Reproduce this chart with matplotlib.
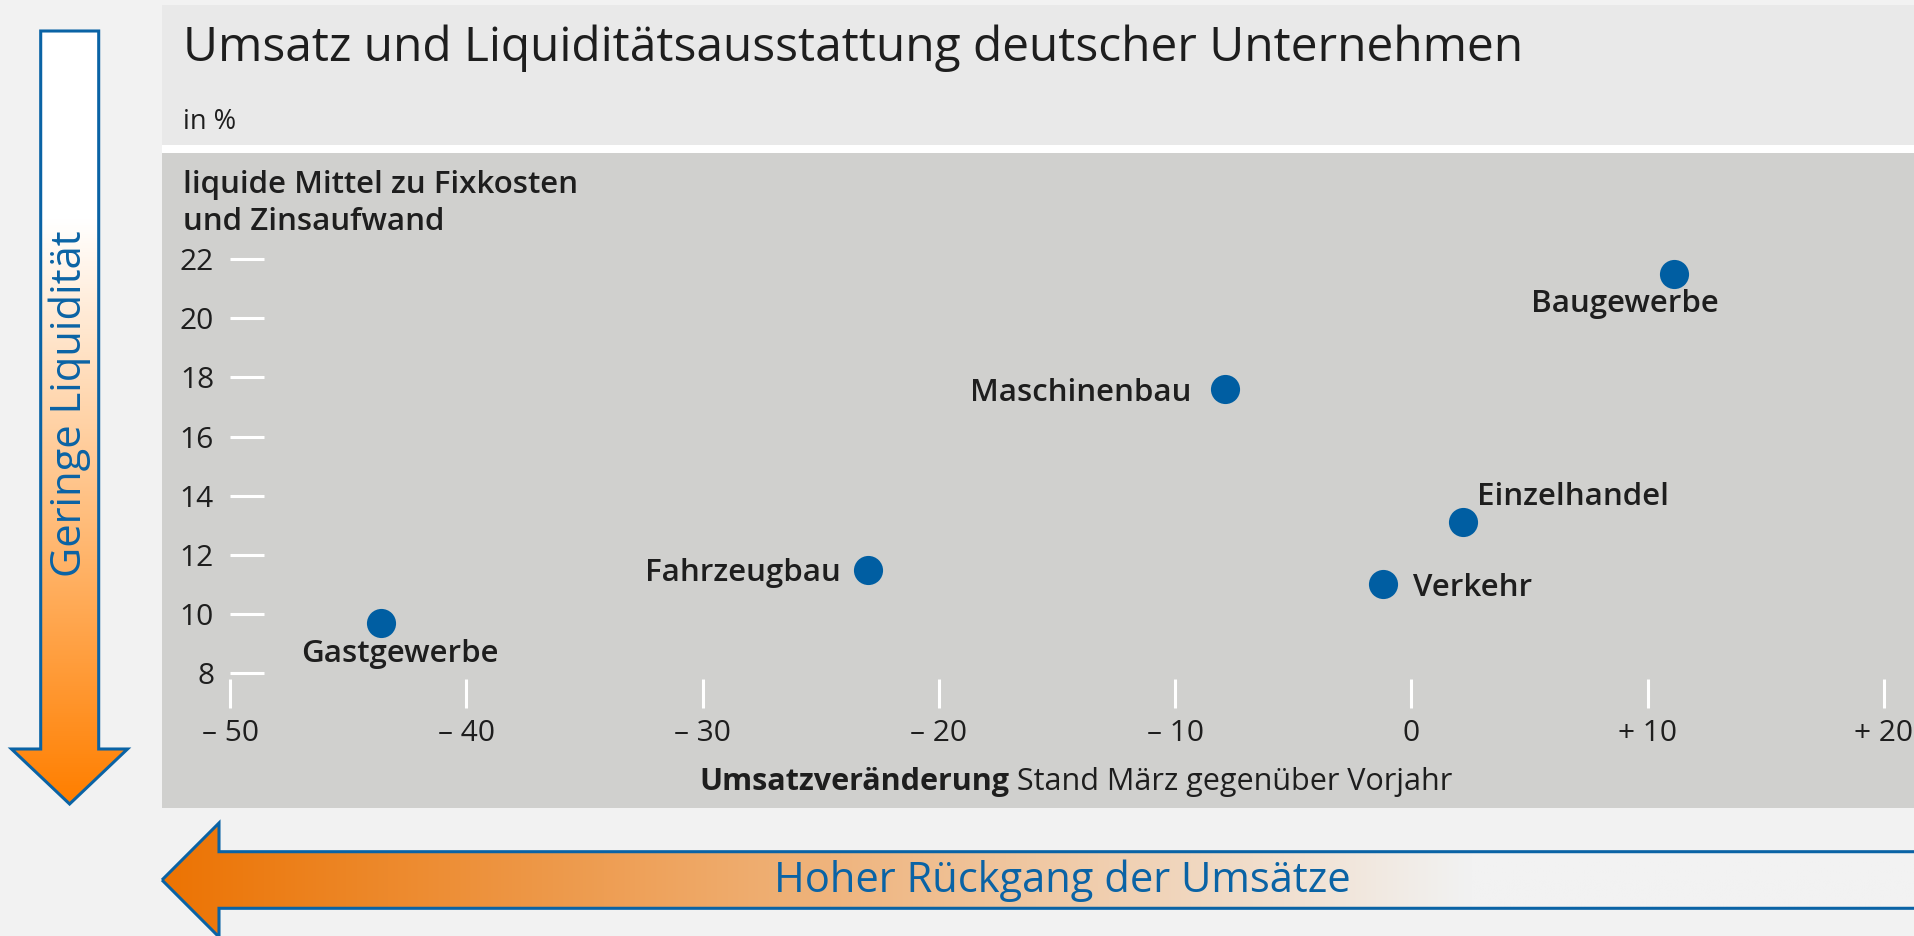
import numpy as np
import matplotlib
matplotlib.use('Agg')
import matplotlib.pyplot as plt
from matplotlib.patches import Polygon, Rectangle

plt.rcParams['font.family'] = ['Open Sans', 'DejaVu Sans']

# donnees
sectors = ['Gastgewerbe', 'Fahrzeugbau', 'Maschinenbau', 'Verkehr', 'Einzelhandel', 'Baugewerbe']
umsatz = [-43.6, -23.0, -7.9, -1.2, 2.2, 11.1]        # Umsatzveraenderung in %
liquiditaet = [9.7, 11.5, 17.6, 11.0, 13.1, 21.5]     # liquide Mittel zu Fixkosten
x_ticks = [-50, -40, -30, -20, -10, 0, 10, 20]
x_ticklabels = ['– 50', '– 40', '– 30', '– 20', '– 10', '0', '+ 10', '+ 20']
y_ticks = [8, 10, 12, 14, 16, 18, 20, 22]

# placement des etiquettes (offset en pixels, alignement)
label_pos = {
    'Gastgewerbe': (19, -39, 'center'),
    'Fahrzeugbau': (-27, -11.5, 'right'),
    'Maschinenbau': (-33, -11.5, 'right'),
    'Verkehr': (30, -11.5, 'left'),
    'Einzelhandel': (14, 17.5, 'left'),
    'Baugewerbe': (-49, -38, 'center'),
}

W, H = 1914, 936
txt = '#1e1e1e'
blue = '#005ea2'
edge = '#0a63a5'

fig = plt.figure(figsize=(W / 100, H / 100), dpi=100, facecolor='#f2f2f2')

# fond (coordonnees en pixels, y vers le bas)
bg = fig.add_axes([0, 0, 1, 1], zorder=0)
bg.axis('off')
bg.add_patch(Rectangle((162, 5), W - 162, 140, facecolor='#e9e9e9', edgecolor='none'))
bg.add_patch(Rectangle((162, 145), W - 162, 8, facecolor='white', edgecolor='none'))
bg.add_patch(Rectangle((162, 153), W - 162, 655, facecolor='#d0d0ce', edgecolor='none'))

# fleche verticale
vpts = [(40.7, 31), (98.7, 31), (98.7, 749), (127.5, 749), (69.6, 804),
        (11.5, 749), (40.7, 749)]
vpoly = Polygon(vpts, closed=True, facecolor='none', edgecolor='none')
bg.add_patch(vpoly)
yy = np.linspace(31, 804, 400)
frac = np.clip((yy - 220) / (800 - 220), 0, 1)
c0 = np.array([255, 255, 255]) / 255
c1 = np.array([255, 127, 0]) / 255
grad_v = c0[None, :] * (1 - frac[:, None]) + c1[None, :] * frac[:, None]
im = bg.imshow(grad_v[:, None, :], extent=[11, 128, 804, 31], aspect='auto', origin='upper', zorder=1)
im.set_clip_path(vpoly)
bg.add_patch(Polygon(vpts, closed=True, facecolor='none', edgecolor=edge, lw=2.2, zorder=2))
bg.text(70, 404, 'Geringe Liquidität', rotation=90, ha='center', va='center',
        fontsize=30, color=edge, zorder=3)

# fleche horizontale
hpts = [(162, 880), (219, 823), (219, 851.7), (1935, 851.7), (1935, 908.3),
        (219, 908.3), (219, 937)]
hpoly = Polygon(hpts, closed=True, facecolor='none', edgecolor='none')
bg.add_patch(hpoly)
xx = np.linspace(160, 1935, 600)
frac = np.clip((xx - 170) / (1470 - 170), 0, 1)
c0 = np.array([236, 116, 4]) / 255
c1 = np.array([242, 242, 242]) / 255
grad_h = c0[None, :] * (1 - frac[:, None]) + c1[None, :] * frac[:, None]
im2 = bg.imshow(grad_h[None, :, :], extent=[160, 1935, 940, 820], aspect='auto', origin='upper', zorder=1)
im2.set_clip_path(hpoly)
bg.add_patch(Polygon(hpts, closed=True, facecolor='none', edgecolor=edge, lw=2.2, zorder=2))
bg.text(1062, 881, 'Hoher Rückgang der Umsätze', ha='center', va='center',
        fontsize=30, color=edge, zorder=3)
bg.set_xlim(0, W)
bg.set_ylim(H, 0)

# titres
fig.text(183 / W, 1 - 61 / H, 'Umsatz und Liquiditätsausstattung deutscher Unternehmen',
         fontsize=34.5, color=txt, va='baseline', ha='left', fontweight='medium')
fig.text(183 / W, 1 - 129 / H, 'in %', fontsize=19.5, color=txt, va='baseline', ha='left')
fig.text(183 / W, 1 - 193 / H, 'liquide Mittel zu Fixkosten', fontsize=22.5, color=txt,
         va='baseline', ha='left', fontweight='semibold')
fig.text(183 / W, 1 - 230 / H, 'und Zinsaufwand', fontsize=22.5, color=txt,
         va='baseline', ha='left', fontweight='semibold')

# nuage de points
ax = fig.add_axes([230 / W, 1 - 679 / H, (W - 230) / W, (679 - 200) / H], zorder=2)
ax.patch.set_visible(False)
ax.scatter(umsatz, liquiditaet, s=440, color=blue, zorder=3, linewidths=0)
for name, x, y in zip(sectors, umsatz, liquiditaet):
    dx, dy, ha = label_pos[name]
    ax.annotate(name, (x, y), xytext=(dx, dy), textcoords='offset pixels',
                ha=ha, va='baseline', fontsize=22.5, color=txt, fontweight='semibold')

ax.set_xlim(-50, 21.27)
ax.set_ylim(7.8, 24.0)
ax.set_xticks(x_ticks)
ax.set_xticklabels(x_ticklabels)
ax.set_yticks(y_ticks)
for s in ax.spines.values():
    s.set_visible(False)
ax.tick_params(axis='y', direction='in', length=24.5, width=2.2, color='white',
               pad=11.5, labelsize=21.5, labelcolor=txt)
ax.tick_params(axis='x', direction='out', length=21, width=2.2, color='white',
               pad=7.5, labelsize=21.5, labelcolor=txt)

# titre de l'axe x (gras + normal)
t1 = fig.text(699 / W, 1 - 790 / H, 'Umsatzveränderung', fontsize=22, color=txt,
              fontweight='bold', va='baseline', ha='left')
ax.annotate(' Stand März gegenüber Vorjahr', xy=(1, 0), xycoords=t1, ha='left', va='bottom',
            fontsize=22, color=txt, annotation_clip=False)

fig.savefig('out.png', dpi=100, facecolor=fig.get_facecolor())
